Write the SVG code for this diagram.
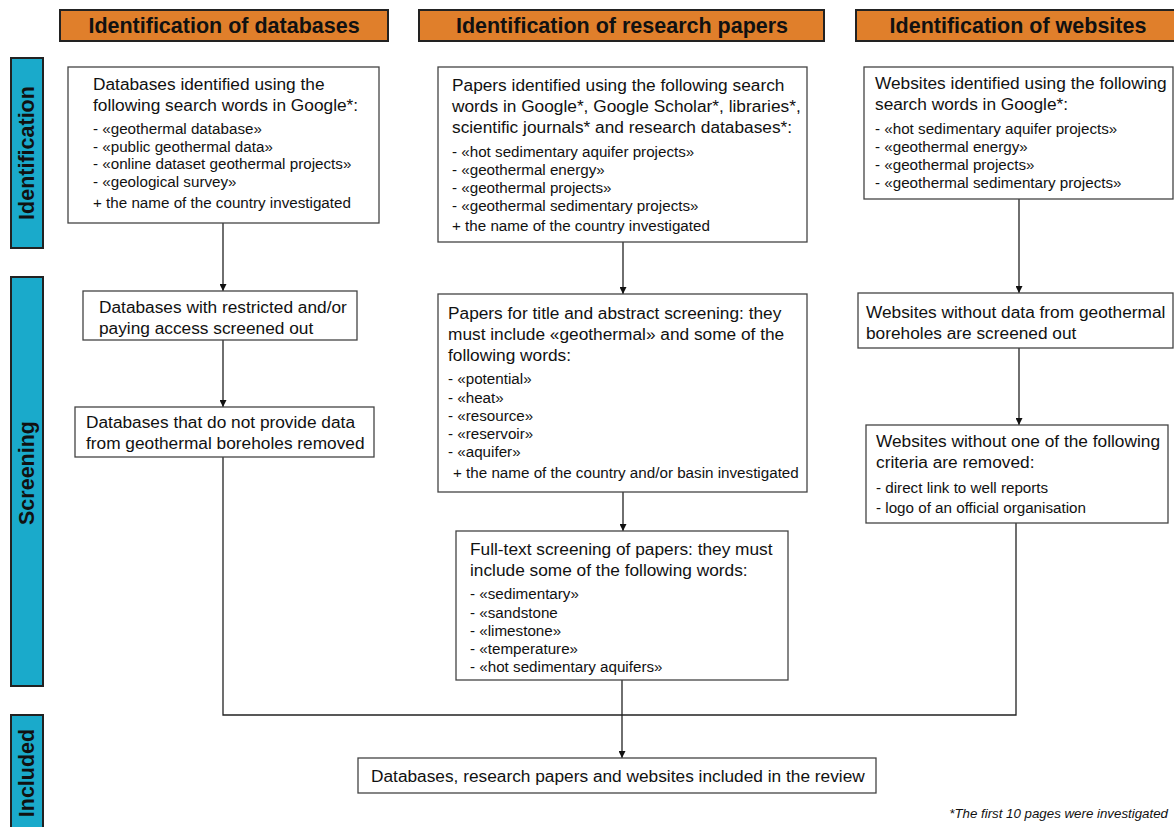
<svg xmlns="http://www.w3.org/2000/svg" width="1174" height="827" viewBox="0 0 1174 827">
<defs>
<style>
text{font-family:"Liberation Sans",Arial,sans-serif;fill:#111}
.hdr{fill:#E07F2B;stroke:#222;stroke-width:2}
.hdrt{font-size:21.5px;font-weight:bold;text-anchor:middle}
.side{fill:#1AAACB;stroke:#222;stroke-width:2}
.sidet{font-size:21.5px;font-weight:bold;text-anchor:middle}
.box{fill:#fff;stroke:#444;stroke-width:1.3}
.t{font-size:17.3px}
.i{font-size:15.2px}
.con{fill:none;stroke:#222;stroke-width:1.3}
.foot{font-size:13.3px;font-style:italic;text-anchor:end}
</style>
<marker id="arr" viewBox="0 0 10 10" refX="10" refY="5" markerWidth="7" markerHeight="7" markerUnits="userSpaceOnUse" orient="auto">
<path d="M0,0 L10,5 L0,10 z" fill="#111"/>
</marker>
</defs>
<rect width="1174" height="827" fill="#fff"/>

<g id="hdr-databases"><rect class="hdr" x="60" y="10" width="328" height="31"/><text class="hdrt" x="224" y="33">Identification of databases</text></g>
<g id="hdr-papers"><rect class="hdr" x="419" y="10" width="405" height="31"/><text class="hdrt" x="622" y="33">Identification of research papers</text></g>
<g id="hdr-websites"><rect class="hdr" x="856" y="10" width="320" height="31"/><text class="hdrt" x="1018" y="33">Identification of websites</text></g>

<g id="side-identification"><rect class="side" x="11" y="58" width="32" height="190"/><text class="sidet" transform="translate(34,153) rotate(-90)">Identification</text></g>
<g id="side-screening"><rect class="side" x="11" y="277" width="32" height="409"/><text class="sidet" transform="translate(34,473) rotate(-90)">Screening</text></g>
<g id="side-included"><rect class="side" x="11" y="715" width="32" height="120"/><text class="sidet" transform="translate(34,773) rotate(-90)">Included</text></g>

<g id="connectors">
<line class="con" x1="223" y1="223" x2="223" y2="291" marker-end="url(#arr)"/>
<line class="con" x1="223" y1="340" x2="223" y2="407" marker-end="url(#arr)"/>
<polyline class="con" points="223,457 223,715 1016,715 1016,523"/>
<line class="con" x1="623" y1="242" x2="623" y2="294" marker-end="url(#arr)"/>
<line class="con" x1="623" y1="492" x2="623" y2="531" marker-end="url(#arr)"/>
<line class="con" x1="622" y1="680" x2="622" y2="758" marker-end="url(#arr)"/>
<line class="con" x1="1019" y1="199" x2="1019" y2="293" marker-end="url(#arr)"/>
<line class="con" x1="1019" y1="348" x2="1019" y2="425" marker-end="url(#arr)"/>
</g>

<g id="db-identified">
<rect class="box" x="68" y="67" width="311" height="156"/>
<text class="t" x="93" y="90">Databases identified using the</text>
<text class="t" x="93" y="111">following search words in Google*:</text>
<text class="i" x="93" y="134">- «geothermal database»</text>
<text class="i" x="93" y="151.5">- «public geothermal data»</text>
<text class="i" x="93" y="169">- «online dataset geothermal projects»</text>
<text class="i" x="93" y="186.5">- «geological survey»</text>
<text class="i" x="93" y="208">+ the name of the country investigated</text>
</g>
<g id="db-restricted">
<rect class="box" x="83" y="291" width="274" height="49"/>
<text class="t" x="99" y="313">Databases with restricted and/or</text>
<text class="t" x="99" y="334">paying access screened out</text>
</g>
<g id="db-removed">
<rect class="box" x="75" y="407" width="299" height="50"/>
<text class="t" x="86" y="428">Databases that do not provide data</text>
<text class="t" x="86" y="449">from geothermal boreholes removed</text>
</g>

<g id="papers-identified">
<rect class="box" x="438" y="67" width="369" height="175"/>
<text class="t" x="452" y="91">Papers identified using the following search</text>
<text class="t" x="452" y="112">words in Google*, Google Scholar*, libraries*,</text>
<text class="t" x="452" y="133">scientific journals* and research databases*:</text>
<text class="i" x="452" y="157">- «hot sedimentary aquifer projects»</text>
<text class="i" x="452" y="175">- «geothermal energy»</text>
<text class="i" x="452" y="193">- «geothermal projects»</text>
<text class="i" x="452" y="211">- «geothermal sedimentary projects»</text>
<text class="i" x="452" y="231">+ the name of the country investigated</text>
</g>
<g id="papers-title-abstract">
<rect class="box" x="438" y="294" width="369" height="198"/>
<text class="t" x="448" y="319">Papers for title and abstract screening: they</text>
<text class="t" x="448" y="340">must include «geothermal» and some of the</text>
<text class="t" x="448" y="361">following words:</text>
<text class="i" x="448" y="384">- «potential»</text>
<text class="i" x="448" y="402.5">- «heat»</text>
<text class="i" x="448" y="421">- «resource»</text>
<text class="i" x="448" y="439">- «reservoir»</text>
<text class="i" x="448" y="457">- «aquifer»</text>
<text class="i" x="453" y="478">+ the name of the country and/or basin investigated</text>
</g>
<g id="papers-fulltext">
<rect class="box" x="456" y="531" width="332" height="149"/>
<text class="t" x="470" y="555">Full-text screening of papers: they must</text>
<text class="t" x="470" y="576">include some of the following words:</text>
<text class="i" x="470" y="599">- «sedimentary»</text>
<text class="i" x="470" y="617.5">- «sandstone</text>
<text class="i" x="470" y="636">- «limestone»</text>
<text class="i" x="470" y="654">- «temperature»</text>
<text class="i" x="470" y="672">- «hot sedimentary aquifers»</text>
</g>

<g id="web-identified">
<rect class="box" x="864" y="67" width="309" height="132"/>
<text class="t" x="875" y="89">Websites identified using the following</text>
<text class="t" x="875" y="110">search words in Google*:</text>
<text class="i" x="875" y="134">- «hot sedimentary aquifer projects»</text>
<text class="i" x="875" y="152">- «geothermal energy»</text>
<text class="i" x="875" y="170">- «geothermal projects»</text>
<text class="i" x="875" y="188">- «geothermal sedimentary projects»</text>
</g>
<g id="web-screened">
<rect class="box" x="858" y="293" width="315" height="55"/>
<text class="t" x="866" y="318">Websites without data from geothermal</text>
<text class="t" x="866" y="339">boreholes are screened out</text>
</g>
<g id="web-removed">
<rect class="box" x="866" y="425" width="302" height="98"/>
<text class="t" x="876" y="447">Websites without one of the following</text>
<text class="t" x="876" y="468">criteria are removed:</text>
<text class="i" x="876" y="493">- direct link to well reports</text>
<text class="i" x="876" y="513">- logo of an official organisation</text>
</g>

<g id="included">
<rect class="box" x="358" y="758" width="518" height="35"/>
<text class="t" x="371" y="782">Databases, research papers and websites included in the review</text>
</g>

<text class="foot" x="1168" y="818">*The first 10 pages were investigated</text>
</svg>
